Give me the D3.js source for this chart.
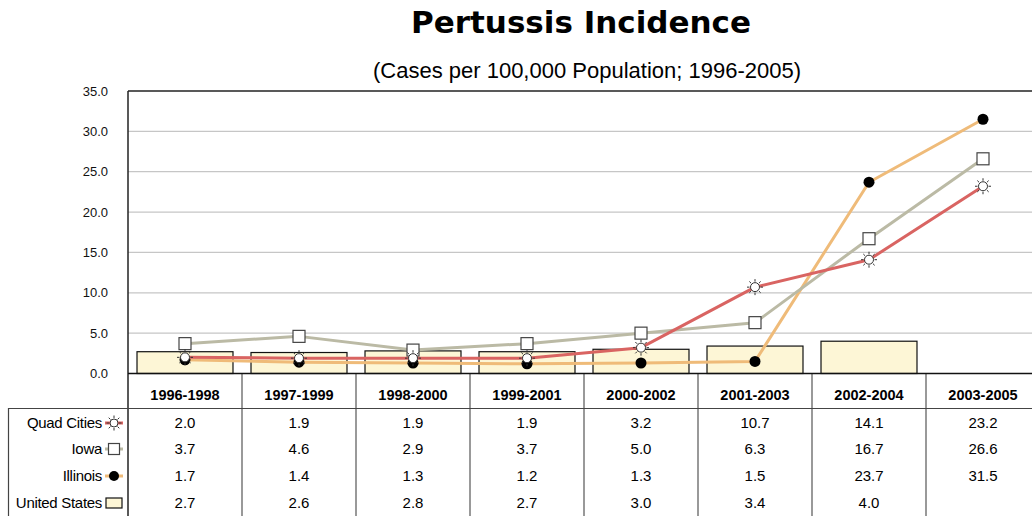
<!DOCTYPE html>
<html>
<head>
<meta charset="utf-8">
<script src="https://cdn.jsdelivr.net/npm/d3@7"></script>
<style>
  html, body { margin: 0; padding: 0; background: #fff; }
  svg { display: block; }
</style>
</head>
<body>
<svg id="chart" width="1032" height="516"></svg>
<script>
// Three-year rolling periods
const categories = ["1996-1998", "1997-1999", "1998-2000", "1999-2001", "2000-2002", "2001-2003", "2002-2004", "2003-2005"];

// Incidence, cases per 100,000 population
const quadCities   = [2.0, 1.9, 1.9, 1.9, 3.2, 10.7, 14.1, 23.2];
const iowa         = [3.7, 4.6, 2.9, 3.7, 5.0, 6.3, 16.7, 26.6];
const illinois     = [1.7, 1.4, 1.3, 1.2, 1.3, 1.5, 23.7, 31.5];
const unitedStates = [2.7, 2.6, 2.8, 2.7, 3.0, 3.4, 4.0, null];

const yTicks = [0, 5, 10, 15, 20, 25, 30, 35];

const svg = d3.select("#chart");
const plot = { left: 128, right: 1040, top: 91, bottom: 373.5 };

const x = d3.scaleBand()
  .domain(categories)
  .range([plot.left, plot.right])
  .paddingInner(0.158)
  .paddingOuter(0.079);
const step = x.step();
const cx = d => x(d) + x.bandwidth() / 2;

const y = d3.scaleLinear().domain([0, 35]).range([plot.bottom, plot.top]);

// Title
svg.append("text")
  .attr("x", 581).attr("y", 33)
  .attr("text-anchor", "middle")
  .attr("font-family", "DejaVu Sans, Verdana, sans-serif")
  .attr("font-weight", "bold")
  .attr("font-size", 31)
  .text("Pertussis Incidence");

svg.append("text")
  .attr("x", 587).attr("y", 78)
  .attr("text-anchor", "middle")
  .attr("font-family", "Liberation Sans, Arial, sans-serif")
  .attr("font-size", 22)
  .text("(Cases per 100,000 Population; 1996-2005)");

// Gridlines
svg.append("g")
  .selectAll("line")
  .data(yTicks.filter(t => t > 0 && t < 35))
  .join("line")
  .attr("x1", plot.left).attr("x2", 1032)
  .attr("y1", d => y(d)).attr("y2", d => y(d))
  .attr("stroke", "#c6c6c6").attr("stroke-width", 1.2);

// Y axis
const yAxis = svg.append("g")
  .attr("transform", `translate(${plot.left},0)`)
  .call(d3.axisLeft(y).tickValues(yTicks).tickFormat(d3.format(".1f")).tickSize(0).tickPadding(20));
yAxis.select(".domain").remove();
yAxis.selectAll("text")
  .attr("font-family", "Liberation Sans, Arial, sans-serif")
  .attr("font-size", 13)
  .attr("fill", "#111");

// Plot frame: left and top
svg.append("line").attr("x1", plot.left).attr("x2", plot.left).attr("y1", plot.top).attr("y2", 516)
  .attr("stroke", "#222").attr("stroke-width", 1.5);
svg.append("line").attr("x1", plot.left).attr("x2", 1032).attr("y1", plot.top).attr("y2", plot.top)
  .attr("stroke", "#222").attr("stroke-width", 1.5);

// United States bars
svg.append("g")
  .selectAll("rect")
  .data(categories.map((c, i) => ({ c, v: unitedStates[i] })).filter(d => d.v != null))
  .join("rect")
  .attr("x", d => x(d.c))
  .attr("y", d => y(d.v))
  .attr("width", x.bandwidth())
  .attr("height", d => y(0) - y(d.v))
  .attr("fill", "#fdf6d6")
  .attr("stroke", "#111")
  .attr("stroke-width", 1.2);

// Table grid: category separators, header rule, left border
svg.append("g")
  .selectAll("line")
  .data(d3.range(1, categories.length + 1))
  .join("line")
  .attr("x1", i => plot.left + i * step).attr("x2", i => plot.left + i * step)
  .attr("y1", plot.bottom).attr("y2", 516)
  .attr("stroke", "#555").attr("stroke-width", 1.2);
svg.append("line").attr("x1", 8).attr("x2", 1032).attr("y1", 408.5).attr("y2", 408.5)
  .attr("stroke", "#444").attr("stroke-width", 1.2);
svg.append("line").attr("x1", 8.5).attr("x2", 8.5).attr("y1", 408).attr("y2", 516)
  .attr("stroke", "#444").attr("stroke-width", 1.2);

// X axis line
svg.append("line").attr("x1", plot.left).attr("x2", 1032).attr("y1", plot.bottom).attr("y2", plot.bottom)
  .attr("stroke", "#111").attr("stroke-width", 1.5);

// Category headers
svg.append("g")
  .selectAll("text")
  .data(categories)
  .join("text")
  .attr("x", d => cx(d))
  .attr("y", 400)
  .attr("text-anchor", "middle")
  .attr("font-family", "Liberation Sans, Arial, sans-serif")
  .attr("font-weight", "bold")
  .attr("font-size", 14.5)
  .text(d => d);

// Marker drawers
function drawSun(g, r) {
  g.append("circle").attr("r", r).attr("fill", "#fff").attr("stroke", "#333").attr("stroke-width", 1);
  d3.range(8).forEach(k => {
    const a = k * Math.PI / 4;
    g.append("line")
      .attr("x1", Math.cos(a) * (r + 1)).attr("y1", Math.sin(a) * (r + 1))
      .attr("x2", Math.cos(a) * (r + 3.5)).attr("y2", Math.sin(a) * (r + 3.5))
      .attr("stroke", "#333").attr("stroke-width", 1);
  });
}
function drawSquare(g, s) {
  g.append("rect").attr("x", -s / 2).attr("y", -s / 2).attr("width", s).attr("height", s)
    .attr("fill", "#fff").attr("stroke", "#444").attr("stroke-width", 1.2);
}
function drawDot(g, r) {
  g.append("circle").attr("r", r).attr("fill", "#000");
}

const series = [
  { name: "Illinois",    values: illinois,   color: "#efbb79", marker: g => drawDot(g, 5.5) },
  { name: "Iowa",        values: iowa,       color: "#bbbaa5", marker: g => drawSquare(g, 12) },
  { name: "Quad Cities", values: quadCities, color: "#d96462", marker: g => drawSun(g, 4.5) }
];

const line = d3.line().x(d => cx(d.c)).y(d => y(d.v));

series.forEach(s => {
  const pts = categories.map((c, i) => ({ c, v: s.values[i] }));
  svg.append("path")
    .datum(pts)
    .attr("d", line)
    .attr("fill", "none")
    .attr("stroke", s.color)
    .attr("stroke-width", 3)
    .attr("stroke-linejoin", "round");
  const mk = svg.append("g").selectAll("g").data(pts).join("g")
    .attr("transform", d => `translate(${cx(d.c)},${y(d.v)})`);
  mk.each(function () { s.marker(d3.select(this)); });
});

// Data table rows
const rows = [
  { name: "Quad Cities",   values: quadCities,   key: "sun" },
  { name: "Iowa",          values: iowa,         key: "square" },
  { name: "Illinois",      values: illinois,     key: "dot" },
  { name: "United States", values: unitedStates, key: "bar" }
];
const rowY = [423, 449, 476, 503];
const lineColor = { sun: "#d96462", square: "#bbbaa5", dot: "#efbb79" };

rows.forEach((r, ri) => {
  const yy = rowY[ri];
  svg.append("text")
    .attr("x", 102).attr("y", yy + 5)
    .attr("text-anchor", "end")
    .attr("font-family", "Liberation Sans, Arial, sans-serif")
    .attr("font-size", 15)
    .attr("letter-spacing", -0.3)
    .text(r.name);

  const key = svg.append("g").attr("transform", `translate(114,${yy})`);
  if (r.key === "bar") {
    key.append("rect").attr("x", -8).attr("y", -5).attr("width", 16).attr("height", 10)
      .attr("fill", "#fdf6d6").attr("stroke", "#111").attr("stroke-width", 1.2);
  } else {
    key.append("line").attr("x1", -9).attr("x2", 9).attr("y1", 0).attr("y2", 0)
      .attr("stroke", lineColor[r.key]).attr("stroke-width", 3);
    const m = key.append("g");
    if (r.key === "sun") drawSun(m, 4);
    if (r.key === "square") drawSquare(m, 11);
    if (r.key === "dot") drawDot(m, 5);
  }

  svg.append("g")
    .selectAll("text")
    .data(categories.map((c, i) => ({ c, v: r.values[i] })).filter(d => d.v != null))
    .join("text")
    .attr("x", d => cx(d.c))
    .attr("y", yy + 5)
    .attr("text-anchor", "middle")
    .attr("font-family", "Liberation Sans, Arial, sans-serif")
    .attr("font-size", 15)
    .text(d => d3.format(".1f")(d.v));
});
</script>
</body>
</html>
